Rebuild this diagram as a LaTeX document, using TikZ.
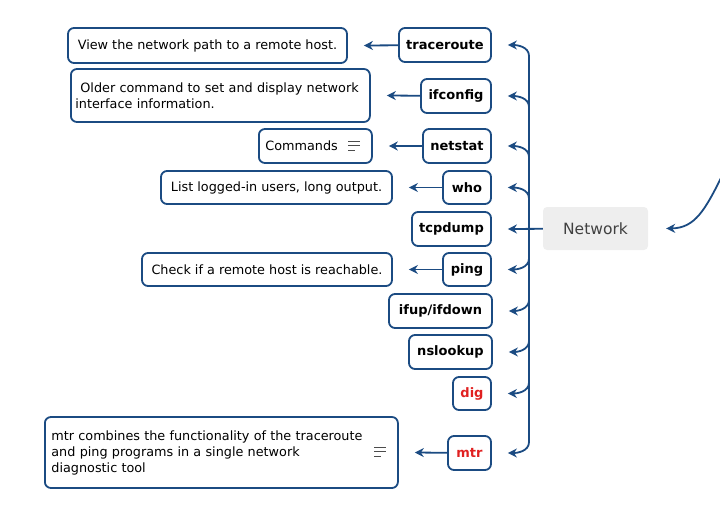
\documentclass[tikz,border=0pt]{standalone}
\usepackage{fontspec}
\setmainfont{DejaVu Sans}
\usetikzlibrary{arrows.meta,calc}
\definecolor{edge}{HTML}{1B4B82}
\definecolor{hot}{HTML}{E02020}
\definecolor{netfill}{HTML}{EEEEEE}
\begin{document}
\begin{tikzpicture}[x=1pt,y=-1pt,
  box/.style={draw=edge,line width=1.8pt,rounded corners=6pt,inner sep=0pt},
  cmd/.style={box,font=\fontsize{13}{15}\selectfont\bfseries},
  desc/.style={box,font=\fontsize{12.8}{16}\selectfont,align=left},
  conn/.style={draw=edge,line width=1.8pt,-{Stealth[length=9pt,width=9pt]}},
  trunk/.style={draw=edge,line width=1.8pt}]
\useasboundingbox (0,0) rectangle (720,516);
% command nodes
\node[cmd,minimum width=92pt,minimum height=34pt] (tr) at (445,45) {traceroute};
\node[cmd,minimum width=70pt,minimum height=34pt] (ifc) at (456,96) {ifconfig};
\node[cmd,minimum width=68pt,minimum height=34pt] (ns) at (457,146) {netstat};
\node[cmd,minimum width=48pt,minimum height=33pt] (who) at (467,187.5) {who};
\node[cmd,minimum width=79pt,minimum height=34pt] (tcp) at (451.5,229) {tcpdump};
\node[cmd,minimum width=48pt,minimum height=33pt] (ping) at (467,269.5) {ping};
\node[cmd,minimum width=103pt,minimum height=34pt] (ifup) at (440.5,311) {ifup/ifdown};
\node[cmd,minimum width=83pt,minimum height=34pt] (nsl) at (450.5,352) {nslookup};
\node[cmd,minimum width=38pt,minimum height=33pt,text=hot] (dig) at (472,393.5) {dig};
\node[cmd,minimum width=43pt,minimum height=34pt,text=hot] (mtr) at (469.5,453) {mtr};
% root
\node[fill=netfill,rounded corners=4pt,minimum width=105pt,minimum height=43pt,
  font=\fontsize{15.5}{18}\selectfont,text=black!75] (net) at (595.5,228.5) {Network};
% descriptions
\node[desc,minimum width=279pt,minimum height=35pt] (d1) at (207.5,45.5) {View the network path to a remote host.};
\node[desc,minimum width=299pt,minimum height=53pt,anchor=west,text width=290pt] (d2) at (70,95.5) {\hspace*{5pt}Older command to set and display network\\interface information.};
\node[desc,minimum width=113pt,minimum height=34pt,anchor=west,text width=106pt] (d3) at (258,146) {\hspace*{3pt}Commands};
\node[desc,minimum width=231pt,minimum height=33pt] (d4) at (276.5,187.5) {List logged-in users, long output.};
\node[desc,minimum width=250pt,minimum height=33pt] (d6) at (267,269.5) {Check if a remote host is reachable.};
\node[desc,minimum width=353pt,minimum height=71pt,anchor=west,text width=340pt] (d10) at (44,452.5) {mtr combines the functionality of the traceroute\\and ping programs in a single network\\diagnostic tool};
% note icons
\foreach \x/\y in {348/141, 374/447} {
  \draw[black!70,line width=0.9pt] (\x,\y) -- ++(12,0) (\x,\y+4.5) -- ++(12,0) (\x,\y+9) -- ++(7,0);
}
% left arrows
\draw[conn] (tr) -- ([xshift=16pt]d1.east);
\draw[conn] (ifc) -- ([xshift=16pt]d2.east);
\draw[conn] (ns) -- ([xshift=16pt]d3.east);
\draw[conn] (who) -- ([xshift=16pt]d4.east);
\draw[conn] (ping) -- ([xshift=16pt]d6.east);
\draw[conn] (mtr) -- ([xshift=16pt]d10.east);
% trunk
\coordinate (ttop) at (529,56);
\coordinate (tbot) at (529,442);
\draw[trunk] (ttop) -- (tbot);
\draw[conn] (ttop) to[out=90,in=0] ([xshift=16pt]tr.east);
\foreach \n in {ifc,ns,who} {
  \draw[conn] ($(ttop |- \n.east)+(0,11)$) to[out=90,in=0] ([xshift=16pt]\n.east);
}
\foreach \n in {ping,ifup,nsl,dig} {
  \draw[conn] ($(ttop |- \n.east)+(0,-11)$) to[out=-90,in=0] ([xshift=16pt]\n.east);
}
\draw[conn] (tbot) to[out=-90,in=0] ([xshift=16pt]mtr.east);
\draw[conn] (net) -- ([xshift=16pt]tcp.east);
% incoming connector
\coordinate (inc) at (722,176);
\draw[conn] (inc) .. controls (705,210) and (695,228) .. ([xshift=18pt]net.east);
\end{tikzpicture}
\end{document}
